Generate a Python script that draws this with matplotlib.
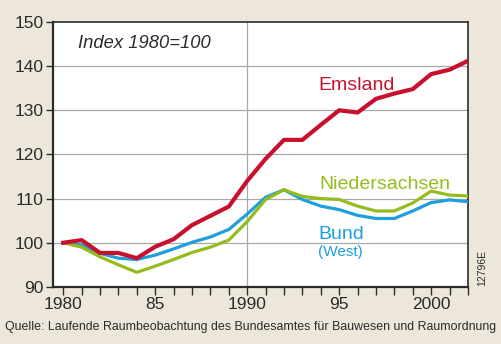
import matplotlib
matplotlib.use("Agg")
import matplotlib.pyplot as plt
import numpy as np

plt.rcParams['font.family'] = ['Liberation Sans', 'DejaVu Sans']

years = list(range(1980, 2003))
emsland = [100, 100.6, 97.7, 97.7, 96.5, 99.1, 100.8, 104.0, 106.1, 108.2, 114.0, 119.0,
           123.3, 123.3, 126.7, 130.0, 129.5, 132.6, 133.8, 134.8, 138.2, 139.2, 141.2]
bund = [100, 99.5, 97.6, 96.5, 96.2, 97.2, 98.6, 100.1, 101.3, 103.0, 106.5, 110.3,
        112.0, 109.8, 108.3, 107.5, 106.2, 105.5, 105.5, 107.2, 109.1, 109.7, 109.3]
niedersachsen = [100, 99.0, 96.8, 95.0, 93.3, 94.7, 96.2, 97.8, 99.0, 100.6, 104.8, 109.8,
                 112.0, 110.5, 110.0, 109.8, 108.3, 107.2, 107.2, 109.0, 111.7, 110.8, 110.6]

major_years = [1980, 1985, 1990, 1995, 2000]
major_labels = ["1980", "85", "1990", "95", "2000"]
y_ticks = [90, 100, 110, 120, 130, 140, 150]

RED = "#c8102e"
BLUE = "#1d9fdb"
GREEN = "#93bd1c"
BG = "#ede7db"
INK = "#2b2b2b"

fig = plt.figure(figsize=(5.01, 3.44), dpi=100, facecolor=BG)
ax = fig.add_axes([0.106, 0.166, 0.828, 0.770])
ax.set_facecolor("white")

ax.set_xlim(1979.45, 2002.0)
ax.set_ylim(90, 150)

# grid: horizontal lines at inner y ticks, one vertical line at 1990
for v in y_ticks[1:-1]:
    ax.axhline(v, color="#a8a8a8", lw=0.9, zorder=1)
ax.axvline(1990, color="#a8a8a8", lw=0.9, zorder=1)

ax.plot(years, bund, color=BLUE, lw=2.3, solid_joinstyle="round", zorder=3)
ax.plot(years, niedersachsen, color=GREEN, lw=2.3, solid_joinstyle="round", zorder=4)
ax.plot(years, emsland, color=RED, lw=3.0, solid_joinstyle="round", zorder=5)

ax.set_yticks(y_ticks)
ax.set_yticklabels([str(v) for v in y_ticks], fontsize=12.5, color=INK)
ax.set_xticks(years, minor=True)
ax.set_xticks(major_years)
ax.set_xticklabels(major_labels, fontsize=12.5, color=INK)
ax.tick_params(axis="y", direction="out", length=5, width=1, color=INK, pad=2)
ax.tick_params(axis="x", which="both", direction="out", length=6, width=1, color=INK, pad=1)

for s in ax.spines.values():
    s.set_color(INK)
    s.set_linewidth(1.2)
ax.spines["left"].set_linewidth(1.6)
ax.spines["bottom"].set_linewidth(1.6)

ax.text(1980.8, 145.2, "Index 1980=100", fontsize=13.2, style="italic", color=INK,
        va="center", ha="left")
ax.text(1993.85, 135.7, "Emsland", fontsize=14, color=RED, va="center", ha="left")
ax.text(1993.95, 113.2, "Niedersachsen", fontsize=14, color=GREEN, va="center", ha="left")
ax.text(1993.85, 101.8, "Bund", fontsize=14, color=BLUE, va="center", ha="left")
ax.text(1993.85, 97.8, "(West)", fontsize=11, color=BLUE, va="center", ha="left")

fig.text(0.963, 0.221, "12796E", rotation=90, fontsize=7.5, color=INK,
         ha="center", va="center")
fig.text(0.5, 0.05, "Quelle: Laufende Raumbeobachtung des Bundesamtes für Bauwesen und Raumordnung",
         fontsize=8.9, color=INK, ha="center", va="center")

fig.savefig("out.png", dpi=100, facecolor=BG)
